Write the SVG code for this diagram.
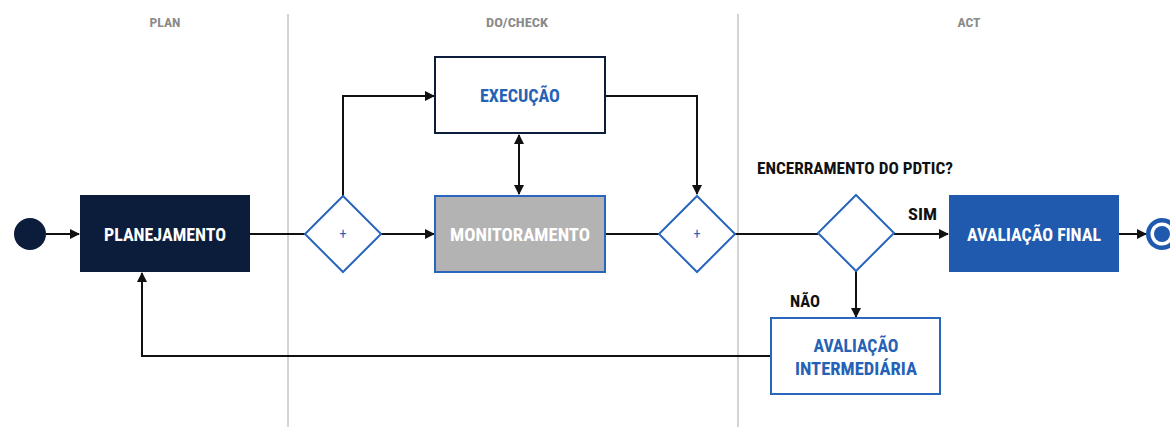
<svg xmlns="http://www.w3.org/2000/svg" width="1170" height="427" viewBox="0 0 1170 427">
<style>
text{font-family:"Roboto Condensed","Roboto","Liberation Sans",sans-serif;font-weight:bold;}
.hdr{font-size:13px;fill:#8a8a8a;text-anchor:middle;}
.lbl{font-size:18px;text-anchor:middle;}
.w{fill:#ffffff;}
.b{fill:#2562b6;}
.k{fill:#111111;font-size:16px;}
.lane{stroke:#a8a8a8;stroke-width:1;}
.con{fill:none;stroke:#111111;stroke-width:2;}
.gw{fill:#ffffff;stroke:#2a66bd;stroke-width:2;}
.plus{font-size:14px;fill:#2a66bd;text-anchor:middle;font-weight:normal;}
</style>
<defs>
<marker id="ah" viewBox="0 0 10 10" refX="9" refY="5" markerWidth="5" markerHeight="5" orient="auto-start-reverse" markerUnits="strokeWidth">
<path d="M0,0 L10,5 L0,10 z" fill="#111111"/>
</marker>
</defs>
<rect width="1170" height="427" fill="#ffffff"/>
<g id="lanes">
<line class="lane" x1="288" y1="14" x2="288" y2="427"/>
<line class="lane" x1="738" y1="14" x2="738" y2="427"/>
<text class="hdr" x="165" y="27" textLength="31" lengthAdjust="spacingAndGlyphs">PLAN</text>
<text class="hdr" x="517" y="27" textLength="62" lengthAdjust="spacingAndGlyphs">DO/CHECK</text>
<text class="hdr" x="969" y="27" textLength="23" lengthAdjust="spacingAndGlyphs">ACT</text>
</g>
<g id="connectors">
<line class="con" x1="46" y1="234" x2="79" y2="234" marker-end="url(#ah)"/>
<line class="con" x1="250" y1="234" x2="305" y2="234"/>
<polyline class="con" points="343,196 343,96 434,96" marker-end="url(#ah)"/>
<line class="con" x1="381" y1="234" x2="434" y2="234" marker-end="url(#ah)"/>
<line class="con" x1="519" y1="135" x2="519" y2="194" marker-start="url(#ah)" marker-end="url(#ah)"/>
<line class="con" x1="605" y1="234" x2="659" y2="234"/>
<polyline class="con" points="605,96 697,96 697,194" marker-end="url(#ah)"/>
<line class="con" x1="735" y1="234" x2="818" y2="234"/>
<line class="con" x1="894" y1="234" x2="948" y2="234" marker-end="url(#ah)"/>
<line class="con" x1="1119" y1="234" x2="1146" y2="234" marker-end="url(#ah)"/>
<line class="con" x1="856" y1="271" x2="856" y2="317" marker-end="url(#ah)"/>
<polyline class="con" points="771,356 142,356 142,273" marker-end="url(#ah)"/>
</g>
<g id="start">
<circle cx="30" cy="234" r="16" fill="#0c1d3b"/>
</g>
<g id="planejamento">
<rect x="80" y="195" width="170" height="77" fill="#0c1d3b"/>
<text class="lbl w" x="165" y="241" textLength="122" lengthAdjust="spacingAndGlyphs">PLANEJAMENTO</text>
</g>
<g id="gateway1">
<path class="gw" d="M343,196 L381,234 L343,272 L305,234 Z"/>
<text class="plus" x="343" y="239">+</text>
</g>
<g id="execucao">
<rect x="435" y="57" width="170" height="76" fill="#ffffff" stroke="#0c1d3b" stroke-width="2"/>
<text class="lbl b" x="520" y="102" textLength="80" lengthAdjust="spacingAndGlyphs">EXECUÇÃO</text>
</g>
<g id="monitoramento">
<rect x="435" y="196" width="170" height="76" fill="#b3b3b3" stroke="#2a66bd" stroke-width="2"/>
<text class="lbl w" x="520" y="241" textLength="140" lengthAdjust="spacingAndGlyphs">MONITORAMENTO</text>
</g>
<g id="gateway2">
<path class="gw" d="M697,196 L735,234 L697,272 L659,234 Z"/>
<text class="plus" x="697" y="239">+</text>
</g>
<g id="decision">
<path class="gw" d="M856,195 L894,233 L856,271 L818,233 Z"/>
<text class="k" x="757" y="174" textLength="196" lengthAdjust="spacingAndGlyphs">ENCERRAMENTO DO PDTIC?</text>
<text class="k" x="908" y="220" textLength="29" lengthAdjust="spacingAndGlyphs">SIM</text>
<text class="k" x="790" y="307" textLength="30" lengthAdjust="spacingAndGlyphs">NÃO</text>
</g>
<g id="avaliacao-final">
<rect x="949" y="195" width="170" height="77" fill="#1f5aae"/>
<text class="lbl w" x="1034" y="241" textLength="134" lengthAdjust="spacingAndGlyphs">AVALIAÇÃO FINAL</text>
</g>
<g id="avaliacao-intermediaria">
<rect x="771" y="318" width="169" height="76" fill="#ffffff" stroke="#2a66bd" stroke-width="2"/>
<text class="lbl b" x="856" y="352" textLength="85" lengthAdjust="spacingAndGlyphs">AVALIAÇÃO</text>
<text class="lbl b" x="856" y="375" textLength="122" lengthAdjust="spacingAndGlyphs">INTERMEDIÁRIA</text>
</g>
<g id="end">
<circle cx="1162" cy="234" r="16" fill="#1f5aae"/>
<circle cx="1162" cy="234" r="11.5" fill="#ffffff"/>
<circle cx="1162" cy="234" r="8" fill="#1f5aae"/>
</g>
</svg>
